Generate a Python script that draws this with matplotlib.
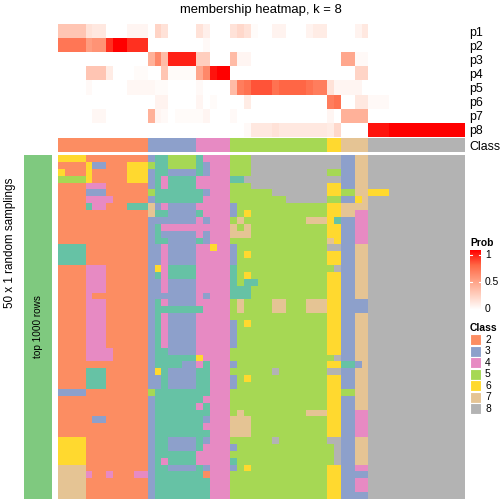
import numpy as np
import matplotlib.pyplot as plt
from matplotlib.colors import ListedColormap, BoundaryNorm, LinearSegmentedColormap
from matplotlib.patches import Rectangle

plt.rcParams['font.family'] = ['Liberation Sans', 'DejaVu Sans']

# class colours (Set2); code 1 (teal) only shows up inside the samplings
class_colors = ['#66C2A5', '#FC8D62', '#8DA0CB', '#E78AC3',
                '#A6D854', '#FFD92F', '#E5C494', '#B3B3B3']
legend_classes = [2, 3, 4, 5, 6, 7, 8]

# consensus class of each of the 59 columns
class_bar = '2222222222222' + '3333333' + '44444' + '55555555555555' + '66' + '7777' + '88888888888888'

prob_labels = ['p1', 'p2', 'p3', 'p4', 'p5', 'p6', 'p7', 'p8']
# membership probability, one list per class, columns grouped by consensus class
membership = [
    [0.30, 0.30, 0.30, 0.30, 0.15, 0.12, 0.12, 0, 0, 0, 0.05, 0.05, 0.05,
     0, 0.22, 0.15, 0, 0, 0, 0,
     0.15, 0.08, 0, 0, 0,
     0.15, 0.20, 0.15, 0.02, 0, 0, 0.06, 0.06, 0, 0, 0, 0.06, 0.10, 0.10,
     0, 0,
     0, 0, 0.06, 0.12,
     0, 0, 0, 0, 0, 0, 0, 0, 0, 0, 0, 0, 0, 0],
    [0.68, 0.68, 0.68, 0.68, 0.50, 0.55, 0.55, 0.88, 1, 1, 0.88, 0.88, 0.88,
     0, 0, 0, 0, 0, 0, 0,
     0, 0.03, 0, 0, 0,
     0, 0, 0, 0, 0, 0, 0, 0, 0, 0, 0, 0, 0, 0,
     0, 0,
     0, 0, 0, 0,
     0, 0, 0, 0, 0, 0, 0, 0, 0, 0, 0, 0, 0, 0],
    [0, 0, 0, 0, 0, 0, 0, 0, 0, 0, 0, 0, 0,
     0.40, 0.60, 0.35, 0.92, 0.92, 0.92, 0.92,
     0.25, 0.25, 0, 0, 0,
     0.35, 0.05, 0.05, 0, 0, 0, 0, 0, 0, 0, 0, 0, 0, 0,
     0, 0,
     0.45, 0.45, 0.03, 0.03,
     0, 0, 0, 0, 0, 0, 0, 0, 0, 0, 0, 0, 0, 0],
    [0, 0, 0, 0, 0.30, 0.30, 0.30, 0.10, 0, 0, 0, 0.02, 0.02,
     0, 0, 0.30, 0.02, 0.02, 0.02, 0.02,
     0.45, 0.60, 0.95, 1, 1,
     0, 0, 0, 0, 0, 0, 0, 0, 0, 0, 0, 0, 0, 0,
     0, 0,
     0, 0, 0.22, 0.22,
     0, 0, 0, 0, 0, 0, 0, 0, 0, 0, 0, 0, 0, 0],
    [0, 0, 0, 0, 0.03, 0, 0, 0, 0, 0, 0.04, 0.04, 0.04,
     0.04, 0.02, 0.02, 0, 0, 0, 0,
     0.03, 0, 0, 0, 0,
     0.35, 0.65, 0.70, 0.80, 0.80, 0.80, 0.70, 0.75, 0.75, 0.75, 0.75, 0.70, 0.65, 0.65,
     0.15, 0.05,
     0.05, 0.05, 0.05, 0,
     0, 0, 0, 0, 0, 0, 0, 0, 0, 0, 0, 0, 0, 0],
    [0, 0, 0, 0, 0, 0, 0, 0, 0, 0, 0, 0, 0,
     0, 0.06, 0.06, 0, 0, 0, 0,
     0.05, 0, 0.02, 0, 0,
     0, 0, 0.10, 0, 0, 0, 0, 0, 0, 0, 0, 0, 0, 0,
     0.65, 0.70,
     0, 0, 0.12, 0.12,
     0.03, 0.03, 0.03, 0, 0, 0, 0, 0, 0, 0, 0, 0, 0, 0],
    [0, 0, 0, 0, 0, 0.04, 0.04, 0, 0, 0, 0, 0, 0,
     0.40, 0.05, 0.03, 0, 0.02, 0.02, 0.02,
     0.02, 0.05, 0, 0, 0,
     0.03, 0, 0, 0, 0, 0, 0, 0, 0, 0, 0, 0, 0, 0,
     0.05, 0,
     0.40, 0.40, 0.40, 0.40,
     0, 0, 0, 0, 0, 0, 0, 0, 0, 0, 0, 0, 0, 0],
    [0, 0, 0, 0, 0, 0, 0, 0, 0, 0, 0, 0, 0,
     0, 0, 0, 0, 0, 0, 0,
     0, 0, 0, 0, 0,
     0, 0, 0.03, 0.12, 0.12, 0.12, 0.15, 0.12, 0.12, 0.12, 0.12, 0.12, 0.12, 0.12,
     0.10, 0.20,
     0, 0, 0, 0,
     0.95, 0.95, 0.95, 1, 1, 1, 1, 1, 1, 1, 1, 1, 1, 1],
]

# class assigned in each of the 50 random samplings (rows) for each column
sampling_rows = [
    "6666 222222222 311555514444 55588888888888 883377 88888888888888",
    "2222 633222666 511555513444 55588888888888 883377 88888888888888",
    "6222 622222666 311333313444 55588888888888 553377 88888888888888",
    "5555 622222666 314111144444 11888888888888 883377 88888888888888",
    "2222 444222222 314111144444 55588888888888 663377 88888888888888",
    "2222 333222222 511111113444 55555588888888 665577 66688888888888",
    "2222 444422222 311111114444 55555555888888 553367 88888888888888",
    "2222 144222111 734333344444 35555555555555 667777 88888888888888",
    "2222 222222222 711333314444 35655555555555 667744 88888888888888",
    "2222 222222222 333333343444 57555555555777 613344 88888888888888",
    "2222 222222222 314444444444 75755555555555 663344 88888888888888",
    "2222 222222222 313333343444 77755555555555 663344 88888888888888",
    "2222 222222222 311333313444 55555555555555 763344 88888888888888",
    "1111 222222222 334333344644 35555555555555 883377 88888888888888",
    "1111 222222222 334333344444 35655555555555 663377 88888888888888",
    "1111 222222222 334333344444 35555555555555 663377 88888888888888",
    "2222 444222222 364111144444 15555555555555 583377 88888888888888",
    "2222 444222222 314111144444 15655555555555 663377 88888888888888",
    "2222 444222222 334333344444 15115555555555 663377 88888888888888",
    "2222 444222222 334333344444 11155555555555 663377 88888888888888",
    "2222 422222222 333333343444 11155555555555 663377 88888888888888",
    "2222 444222222 314333344444 57555577555777 663333 88888888888888",
    "2222 444222222 311111114444 57555577555777 663333 88888888888888",
    "2222 444222222 314333344444 55555555555555 663377 88888888888888",
    "2222 444222222 314333344444 35655555555555 663377 88888888888888",
    "2222 444222222 314333344444 35555555555555 663377 88888888888888",
    "2222 444222222 314333344444 35555555555555 663377 88888888888888",
    "2222 444222222 314333344444 35555555555555 663377 88888888888888",
    "2222 444422222 311333344444 55555555555555 663377 88888888888888",
    "2222 444422222 311111164444 55555555555555 583377 88888888888888",
    "2222 222222222 311113341444 35555555555555 661137 88888888888888",
    "2222 111222222 361333311444 55555585555555 883377 88888888888888",
    "2222 111222222 331333311444 35655555555555 663377 88888888888888",
    "2222 111222222 331333311444 35555555555555 663377 88888888888888",
    "3333 222222222 511111111444 55555555555555 665577 88888888888888",
    "2222 222222222 311111114444 55555555555555 663377 88888888888888",
    "2222 222222222 311111141444 55555555555555 663377 88888888888888",
    "2222 222222222 311111111444 57555555555777 663344 88888888888888",
    "2222 233222222 311111113444 77755555555555 663344 88888888888888",
    "2222 222222222 311111114444 77755555555555 663344 88888888888888",
    "2222 222222222 311111111444 77755555555555 663344 88888888888888",
    "6666 222222222 311333313444 55555585555555 883377 88888888888888",
    "6666 222222222 311333314444 35555555555555 583377 88888888888888",
    "6666 222222222 311111144444 55555555555555 583377 88888888888888",
    "6666 222222222 314111144444 15555555555555 583377 88888888888888",
    "7777 222222222 311333313444 35655555555555 663344 88888888888888",
    "7777 422422244 311111112444 55555555555555 663333 88888888888888",
    "7777 222222222 311111111444 55555555555555 663344 88888888888888",
    "7777 222222222 311111111444 55555555555555 663344 88888888888888",
    "7777 222222222 311111111444 55555555555555 663333 88888888888888",
]

W = H = 504
fig = plt.figure(figsize=(5.04, 5.04), dpi=100)


def px_axes(x0, y0, x1, y1):
    # axes placed with pixel coordinates measured from the top left corner
    ax = fig.add_axes([x0 / W, 1 - y1 / H, (x1 - x0) / W, (y1 - y0) / H])
    for s in ax.spines.values():
        s.set_visible(False)
    ax.set_xticks([])
    ax.set_yticks([])
    return ax


class_cmap = ListedColormap(class_colors)
class_norm = BoundaryNorm(np.arange(0.5, 9.5, 1), class_cmap.N)
prob_cmap = LinearSegmentedColormap.from_list(
    'prob', ['#FFFFFF', '#FFCFBF', '#FF9E81', '#FF6846', '#FF0000'])

# membership heatmap
ax_m = px_axes(58, 24, 465, 137)
ax_m.imshow(np.array(membership), cmap=prob_cmap, vmin=0, vmax=1,
            aspect='auto', interpolation='nearest')
ax_m.set_yticks(range(len(prob_labels)))
ax_m.set_yticklabels(prob_labels)
ax_m.yaxis.tick_right()
ax_m.tick_params(axis='y', length=0, pad=3, labelsize=8.9)

# class annotation
ax_c = px_axes(58, 138, 465, 152)
ax_c.imshow(np.array([[int(ch) for ch in class_bar]]), cmap=class_cmap,
            norm=class_norm, aspect='auto', interpolation='nearest')
ax_c.set_yticks([0])
ax_c.set_yticklabels(['Class'])
ax_c.yaxis.tick_right()
ax_c.tick_params(axis='y', length=0, pad=3, labelsize=8.9)

# random samplings
grid = np.array([[int(ch) for ch in row.replace(' ', '')] for row in sampling_rows])
ax_s = px_axes(58, 155, 465, 499)
ax_s.imshow(grid, cmap=class_cmap, norm=class_norm,
            aspect='auto', interpolation='nearest')

# left block annotation
ax_l = px_axes(24, 155, 52, 499)
ax_l.set_facecolor('#7FC97F')
ax_l.text(0.5, 0.5, 'top 1000 rows', rotation=90, ha='center', va='center',
          fontsize=7.2, transform=ax_l.transAxes)

fig.text(10 / W, 1 - 243 / H, '50 x 1 random samplings', rotation=90,
         ha='center', va='center', fontsize=8.4)
fig.text(261 / W, 1 - 10 / H, 'membership heatmap, k = 8',
         ha='center', va='center', fontsize=9.4)

# legends
ax_g = px_axes(466, 234, 504, 420)
ax_g.set_xlim(466, 504)
ax_g.set_ylim(420, 234)
ax_g.text(470, 243, 'Prob', fontweight='bold', fontsize=7.4, va='center')
grad = np.linspace(1, 0, 100).reshape(-1, 1)
ax_g.imshow(grad, cmap=prob_cmap, vmin=0, vmax=1, aspect='auto',
            extent=[470, 481, 310, 250])
for v, lab in [(1, '1'), (0.5, '0.5'), (0, '0')]:
    y = 309 - 54 * v
    ax_g.plot([470, 472], [y, y], color='white', lw=0.8)
    ax_g.plot([479, 481], [y, y], color='white', lw=0.8)
    ax_g.text(485, y, lab, fontsize=7.4, va='center')
ax_g.text(470, 328, 'Class', fontweight='bold', fontsize=7.4, va='center')
for i, c in enumerate(legend_classes):
    y0 = 334.5 + 11.5 * i
    ax_g.add_patch(Rectangle((470, y0), 11, 11, facecolor=class_colors[c - 1],
                             edgecolor='white', lw=0.8))
    ax_g.text(485, y0 + 5.5, str(c), fontsize=7.4, va='center')

fig.savefig('out.png', dpi=100)
